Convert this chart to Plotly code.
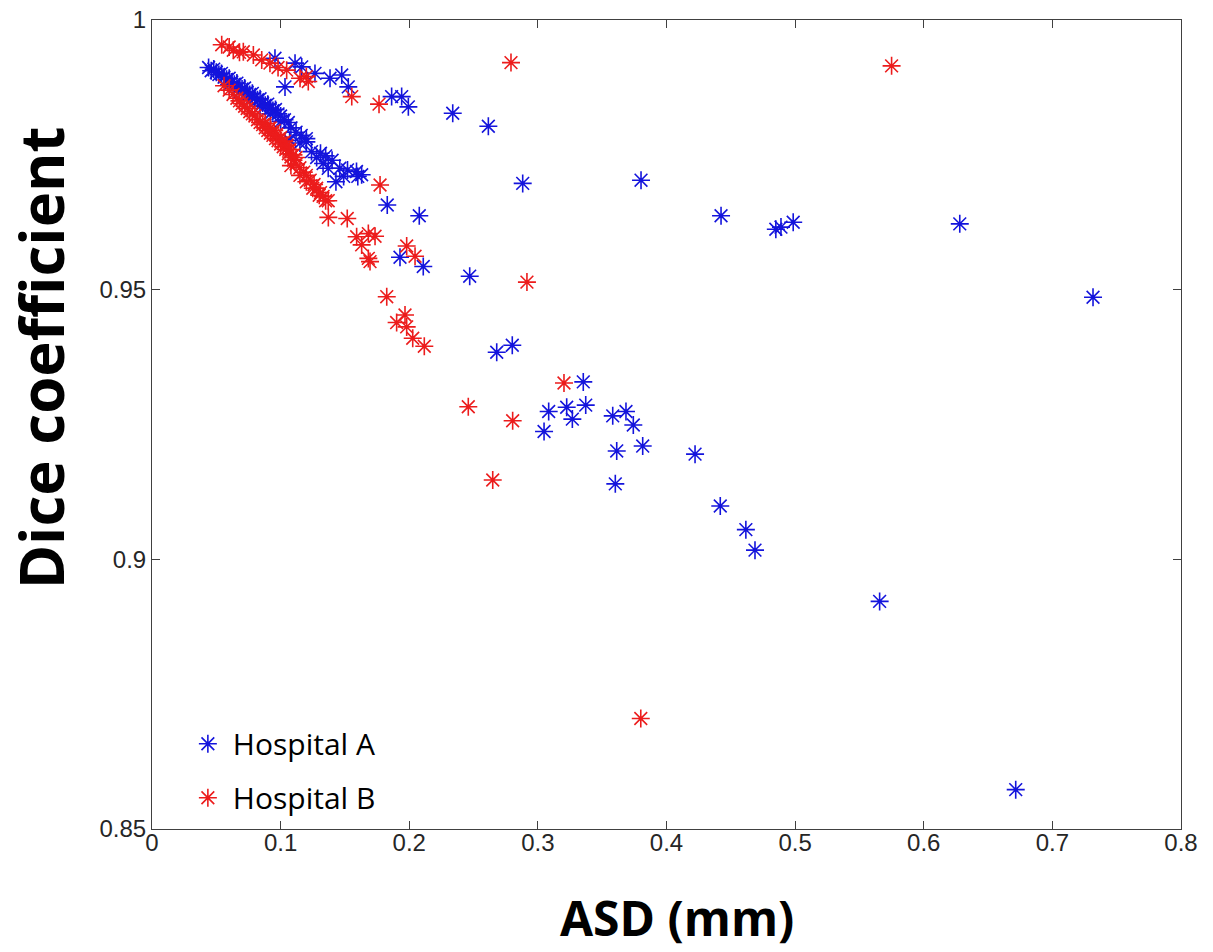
import plotly.graph_objects as go

# Hospital A (blue)
a_x = [0.044, 0.046, 0.048, 0.050, 0.052, 0.054, 0.056, 0.058, 0.060, 0.062, 0.064, 0.066,
       0.068, 0.070, 0.072, 0.074, 0.076, 0.078, 0.080, 0.082, 0.084, 0.086, 0.088, 0.090,
       0.092, 0.094, 0.096, 0.098, 0.100, 0.103, 0.106,
       0.060, 0.068, 0.076, 0.084, 0.092, 0.100, 0.108, 0.112, 0.116, 0.120,
       0.107, 0.115, 0.120, 0.124, 0.131, 0.133, 0.137, 0.140, 0.146, 0.149, 0.143, 0.152,
       0.159, 0.160, 0.128, 0.135,
       0.0956, 0.1112, 0.1164, 0.1267, 0.1384, 0.1475, 0.1526, 0.1034, 0.1863, 0.1941,
       0.1993, 0.2338, 0.2615,
       0.1630, 0.2882, 0.3802, 0.1829, 0.2078, 0.1928, 0.2109, 0.2470, 0.4424, 0.4850,
       0.4890, 0.4985, 0.6280, 0.7316, 0.2680, 0.2801, 0.3353, 0.3084, 0.3224, 0.3268,
       0.3372, 0.3048, 0.3582, 0.3685, 0.3742, 0.3613, 0.3815, 0.4222, 0.3602, 0.4418,
       0.4617, 0.4688, 0.5657, 0.6715]
a_y = [0.9912, 0.9906, 0.9909, 0.9903, 0.9899, 0.9901, 0.9894, 0.9890, 0.9892, 0.9885, 0.9881, 0.9883,
       0.9876, 0.9872, 0.9874, 0.9866, 0.9862, 0.9864, 0.9856, 0.9852, 0.9854, 0.9846, 0.9842, 0.9844,
       0.9836, 0.9832, 0.9834, 0.9826, 0.9822, 0.9815, 0.9810,
       0.9880, 0.9866, 0.9852, 0.9840, 0.9826, 0.9812, 0.9800, 0.9792, 0.9786, 0.9780,
       0.9777, 0.9772, 0.9774, 0.9756, 0.9753, 0.9734, 0.9725, 0.9740, 0.9725, 0.9710, 0.9700, 0.9722,
       0.9719, 0.9710, 0.9745, 0.9748,
       0.9929, 0.9920, 0.9913, 0.9901, 0.9892, 0.9898, 0.9876, 0.9876, 0.9858, 0.9858,
       0.9839, 0.9827, 0.9803,
       0.9713, 0.9697, 0.9703, 0.9657, 0.9637, 0.9560, 0.9543, 0.9525, 0.9637, 0.9612,
       0.9616, 0.9625, 0.9622, 0.9486, 0.9384, 0.9397, 0.9329, 0.9274, 0.9282, 0.9260,
       0.9286, 0.9237, 0.9266, 0.9274, 0.9249, 0.9201, 0.9210, 0.9195, 0.9140, 0.9099,
       0.9055, 0.9017, 0.8922, 0.8573]

# Hospital B (red)
b_x = [0.0542, 0.0600, 0.0632, 0.0680, 0.0710, 0.0788, 0.0853, 0.0917, 0.0980, 0.1047, 0.1151,
       0.1200, 0.1215, 0.1553, 0.1765, 0.2791, 0.5750,
       0.056, 0.060, 0.063, 0.066, 0.068, 0.070, 0.072, 0.074, 0.076, 0.078, 0.080, 0.082,
       0.084, 0.086, 0.088, 0.090, 0.092, 0.094, 0.096, 0.098, 0.100, 0.102, 0.104, 0.106,
       0.108, 0.110, 0.112, 0.115, 0.118, 0.120, 0.123, 0.126, 0.128, 0.131, 0.133, 0.137,
       0.088, 0.092, 0.095, 0.097, 0.100, 0.103, 0.105, 0.107, 0.110, 0.112, 0.108, 0.115,
       0.120, 0.125, 0.130, 0.135,
       0.1773, 0.1371, 0.1518, 0.1591, 0.1682, 0.1734, 0.1630, 0.1682, 0.1695, 0.1980,
       0.2045, 0.1825, 0.1902, 0.1967, 0.1980, 0.2027, 0.2117, 0.2915, 0.3203, 0.2459,
       0.2804, 0.2649, 0.3800]
b_y = [0.9954, 0.9950, 0.9944, 0.9940, 0.9941, 0.9935, 0.9926, 0.9920, 0.9912, 0.9907, 0.9892,
       0.9895, 0.9886, 0.9858, 0.9844, 0.9921, 0.9915,
       0.9878, 0.9870, 0.9862, 0.9855, 0.9850, 0.9845, 0.9840, 0.9836, 0.9830, 0.9826, 0.9822, 0.9815,
       0.9810, 0.9806, 0.9800, 0.9795, 0.9790, 0.9786, 0.9780, 0.9776, 0.9770, 0.9765, 0.9760, 0.9752,
       0.9746, 0.9740, 0.9733, 0.9726, 0.9718, 0.9712, 0.9703, 0.9695, 0.9688, 0.9680, 0.9673, 0.9665,
       0.9808, 0.9800, 0.9795, 0.9788, 0.9782, 0.9775, 0.9768, 0.9760, 0.9750, 0.9745, 0.9730, 0.9712,
       0.9700, 0.9688, 0.9675, 0.9665,
       0.9694, 0.9634, 0.9632, 0.9598, 0.9604, 0.9599, 0.9583, 0.9558, 0.9552, 0.9581,
       0.9562, 0.9487, 0.9439, 0.9453, 0.9431, 0.9410, 0.9395, 0.9514, 0.9327, 0.9283,
       0.9257, 0.9147, 0.8705]

x_ticks = [0, 0.1, 0.2, 0.3, 0.4, 0.5, 0.6, 0.7, 0.8]
x_tick_labels = ["0", "0.1", "0.2", "0.3", "0.4", "0.5", "0.6", "0.7", "0.8"]
y_ticks = [0.85, 0.9, 0.95, 1.0]
y_tick_labels = ["0.85", "0.9", "0.95", "1"]
x_title = "ASD (mm)"
y_title = "Dice coefficient"

fig = go.Figure()
fig.add_trace(go.Scatter(x=a_x, y=a_y, mode="markers", name="Hospital A", legendgroup="a",
                         marker=dict(symbol="asterisk-open", size=15, color="#1414dc",
                                     line=dict(color="#1414dc", width=1.6))))
fig.add_trace(go.Scatter(x=b_x, y=b_y, mode="markers", name="Hospital B", legendgroup="b",
                         marker=dict(symbol="asterisk-open", size=15, color="#ec1c1c",
                                     line=dict(color="#ec1c1c", width=1.6))))

axis_common = dict(showline=True, linecolor="#404040", linewidth=1, mirror="ticks",
                   ticks="inside", ticklen=8, tickcolor="#404040", showgrid=False, zeroline=False,
                   automargin=False, ticklabeloverflow="allow",
                   tickfont=dict(family="Liberation Sans, Arial", size=24, color="#262626"))

fig.update_layout(
    width=1213, height=952,
    margin=dict(l=152, r=32, t=20, b=123),
    paper_bgcolor="white", plot_bgcolor="white",
    xaxis=dict(range=[0, 0.8], tickvals=x_ticks, ticktext=x_tick_labels, ticklabelstandoff=-8,
               **axis_common),
    yaxis=dict(range=[0.85, 1.0], tickvals=y_ticks, ticktext=y_tick_labels,
               **axis_common),
    legend=dict(x=0.030, y=0.0065, xanchor="left", yanchor="bottom", bgcolor="rgba(0,0,0,0)",
                font=dict(family="Open Sans", size=30, color="black"), itemwidth=40,
                tracegroupgap=12),
    showlegend=True,
    annotations=[
        dict(text="<b>" + x_title + "</b>", xref="paper", yref="paper", x=0.510, y=-0.110,
             xanchor="center", yanchor="middle", showarrow=False,
             font=dict(family="Open Sans", size=48, color="black")),
        dict(text="<b>" + y_title + "</b>", xref="paper", yref="paper", x=-0.1079, y=0.583,
             xanchor="center", yanchor="middle", showarrow=False, textangle=-90,
             font=dict(family="Open Sans", size=60, color="black")),
    ],
)

fig.write_html("out.html", config={"displayModeBar": False},
               post_script="document.body.style.margin='0px';")
